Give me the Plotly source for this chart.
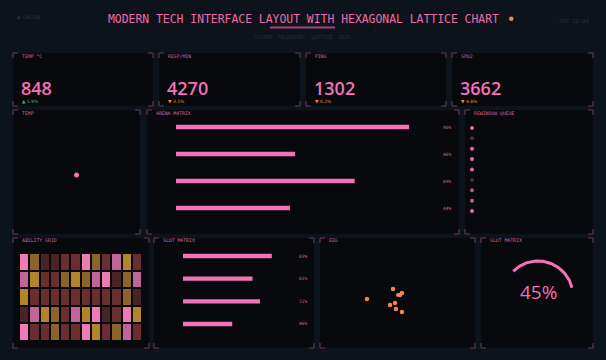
import math
import plotly.graph_objects as go

W, H = 606, 360

# ---------------- data ----------------
kpi_labels = ["TEMP °C", "RESP/MIN", "PING", "SPO2"]
kpi_values = [848, 4270, 1302, 3662]
kpi_deltas = ["▲ 5.8%", "▼ 3.1%", "▼ 0.2%", "▼ 4.8%"]
kpi_up = [True, False, False, False]

temp_x = [0.0]
temp_y = [-0.05]

arena_cats = ["A", "B", "C", "D"]
arena_vals = [90, 46, 69, 44]

queue_status = [1, 0, 1, 1, 1, 0, 0.7, 0.8, 1]

grid_z = [
    [5, 2, 0, 0, 1, 1, 5, 2, 1, 4, 3, 1],
    [4, 3, 1, 1, 2, 3, 2, 4, 5, 0, 2, 4],
    [3, 1, 1, 1, 1, 1, 1, 1, 1, 1, 2, 0],
    [0, 4, 3, 2, 1, 4, 3, 5, 0, 1, 5, 3],
    [5, 1, 1, 2, 1, 1, 5, 3, 1, 2, 4, 1],
]

slot_cats = ["A", "B", "C", "D"]
slot_vals = [83, 65, 72, 46]

eeg_x = [3.03, 4.71, 5.29, 5.16, 4.84, 4.52, 4.90, 5.29]
eeg_y = [4.49, 5.42, 5.05, 4.86, 4.11, 3.93, 3.55, 3.27]
eeg_mark_x = [5.03]
eeg_mark_y = [4.86]

gauge_value = 45

# ---------------- styling ----------------
BG = "#0d131b"
PANEL = "#08090c"
PINK = "#f472b6"
DIMPINK = "#6e3a56"
ORANGE = "#f5864a"
GREEN = "#3fb37a"
MONO = "DejaVu Sans Mono"


def X(px):
    return px / W


def Y(py):
    return 1 - py / H


shapes = []
annotations = []


def panel(x0, y0, x1, y1, title):
    shapes.append(dict(type="rect", xref="paper", yref="paper",
                       x0=X(x0), x1=X(x1), y0=Y(y1), y1=Y(y0),
                       fillcolor=PANEL, line=dict(width=0), layer="below"))
    L = 5
    corners = [
        f"M{X(x0)},{Y(y0+L)} L{X(x0)},{Y(y0)} L{X(x0+L)},{Y(y0)}",
        f"M{X(x1-L)},{Y(y0)} L{X(x1)},{Y(y0)} L{X(x1)},{Y(y0+L)}",
        f"M{X(x0)},{Y(y1-L)} L{X(x0)},{Y(y1)} L{X(x0+L)},{Y(y1)}",
        f"M{X(x1-L)},{Y(y1)} L{X(x1)},{Y(y1)} L{X(x1)},{Y(y1-L)}",
    ]
    for c in corners:
        shapes.append(dict(type="path", xref="paper", yref="paper", path=c,
                           line=dict(color=DIMPINK, width=1), layer="below"))
    annotations.append(dict(xref="paper", yref="paper", x=X(x0 + 7), y=Y(y0 + 3),
                            text=title, showarrow=False, xanchor="left", yanchor="middle",
                            font=dict(family=MONO, size=4.8, color="#d0649e")))


# KPI panels
kpi_boxes = [(13, 53, 153, 106), (159, 53, 300, 106), (306, 53, 446, 106), (452, 53, 593, 106)]
for (x0, y0, x1, y1), lab, val, d, up in zip(kpi_boxes, kpi_labels, kpi_values, kpi_deltas, kpi_up):
    panel(x0, y0, x1, y1, lab)
    annotations.append(dict(xref="paper", yref="paper", x=X(x0 + 6), y=Y(88),
                            text=str(val), showarrow=False, xanchor="left", yanchor="middle",
                            font=dict(family="Open Sans", size=18, color=PINK, weight=600)))
    annotations.append(dict(xref="paper", yref="paper", x=X(x0 + 7), y=Y(101.5),
                            text=d, showarrow=False, xanchor="left", yanchor="middle",
                            font=dict(family="DejaVu Sans", size=4.5, color=GREEN if up else ORANGE)))

panel(13, 110, 140, 234, "TEMP")
panel(147, 110, 459, 234, "ARENA MATRIX")
panel(465, 110, 593, 234, "REWINDOW QUEUE")
panel(13, 238, 149, 348, "ABILITY GRID")
panel(154, 238, 314, 348, "SLOT MATRIX")
panel(320, 238, 475, 348, "EEG")
panel(481, 238, 593, 348, "SLOT MATRIX")

# header
annotations.append(dict(xref="paper", yref="paper", x=X(303), y=Y(18.5),
                        text="MODERN TECH INTERFACE LAYOUT WITH HEXAGONAL LATTICE CHART",
                        showarrow=False, xanchor="center", yanchor="middle",
                        font=dict(family=MONO, size=11.4, color="#ec6daa")))
shapes.append(dict(type="circle", xref="paper", yref="paper",
                   x0=X(509), x1=X(513.5), y0=Y(21), y1=Y(16.5),
                   fillcolor=ORANGE, line=dict(width=0)))
shapes.append(dict(type="line", xref="paper", yref="paper",
                   x0=X(270), x1=X(335), y0=Y(27.5), y1=Y(27.5),
                   line=dict(color="#a3477a", width=2)))
annotations.append(dict(xref="paper", yref="paper", x=X(302), y=Y(37.5),
                        text="SYSTEM  TELEMETRY  LATTICE  GRID",
                        showarrow=False, xanchor="center", yanchor="middle",
                        font=dict(family=MONO, size=5, color="#262f3b")))
annotations.append(dict(xref="paper", yref="paper", x=X(15), y=Y(17),
                        text="● ONLINE", showarrow=False, xanchor="left", yanchor="middle",
                        font=dict(family=MONO, size=5, color="#262f3b")))
annotations.append(dict(xref="paper", yref="paper", x=X(591), y=Y(21),
                        text="SYS 12:04", showarrow=False, xanchor="right", yanchor="middle",
                        font=dict(family=MONO, size=5.5, color="#262f3b")))

fig = go.Figure()

# 1: temp point
fig.add_trace(go.Scatter(x=temp_x, y=temp_y, mode="markers",
                         marker=dict(color=PINK, size=5), xaxis="x", yaxis="y"))

# 2: arena bars
fig.add_trace(go.Bar(x=arena_vals, y=list(range(len(arena_vals))), orientation="h",
                     width=0.17, marker=dict(color=PINK, line=dict(width=0)),
                     xaxis="x2", yaxis="y2"))
for i, v in enumerate(arena_vals):
    annotations.append(dict(xref="paper", yref="y2", x=X(447), y=i, text=f"{v}%",
                            showarrow=False, xanchor="center", yanchor="middle",
                            font=dict(family=MONO, size=4.5, color="#d0649e")))

# 3: queue dots
fig.add_trace(go.Scatter(x=[0] * len(queue_status), y=list(range(len(queue_status))),
                         mode="markers",
                         marker=dict(size=4, color=queue_status,
                                     colorscale=[[0, "#4a2a38"], [1, "#e06aa4"]],
                                     cmin=0, cmax=1),
                         xaxis="x3", yaxis="y3"))

# 4: heatmap grid
cols = ["#4a2326", "#6b2e30", "#8c6428", "#b4842c", "#c0649a", "#f07ab4"]
cs = [[i / 5, c] for i, c in enumerate(cols)]
fig.add_trace(go.Heatmap(z=grid_z, colorscale=cs, zmin=0, zmax=5, showscale=False,
                         xgap=2, ygap=2, xaxis="x4", yaxis="y4"))

# 5: slot bars
fig.add_trace(go.Bar(x=slot_vals, y=list(range(len(slot_vals))), orientation="h",
                     width=0.19, marker=dict(color=PINK, line=dict(width=0)),
                     xaxis="x5", yaxis="y5"))
for i, v in enumerate(slot_vals):
    annotations.append(dict(xref="paper", yref="y5", x=X(303), y=i, text=f"{v}%",
                            showarrow=False, xanchor="center", yanchor="middle",
                            font=dict(family=MONO, size=4.5, color="#d0649e")))

# 6: eeg
fig.add_trace(go.Scatter(x=eeg_x, y=eeg_y, mode="markers",
                         marker=dict(color=ORANGE, size=4.5), xaxis="x6", yaxis="y6"))
fig.add_trace(go.Scatter(x=eeg_mark_x, y=eeg_mark_y, mode="markers",
                         marker=dict(color="#f07aa8", size=4), xaxis="x6", yaxis="y6"))

# 7: gauge arc (135deg start, clockwise sweep of value% of 270deg)
R = 35
n = 80
start = 135
sweep = gauge_value / 100 * 270
ax_ = [R * math.cos(math.radians(start - sweep * k / n)) for k in range(n + 1)]
ay_ = [R * math.sin(math.radians(start - sweep * k / n)) for k in range(n + 1)]
fig.add_trace(go.Scatter(x=ax_, y=ay_, mode="lines",
                         line=dict(color=PINK, width=3), xaxis="x7", yaxis="y7"))
annotations.append(dict(xref="x7", yref="y7", x=0, y=4, text=f"{gauge_value}%",
                        showarrow=False, xanchor="center", yanchor="middle",
                        font=dict(family="Open Sans", size=19, color=PINK)))


def axis(d0, d1, rng, anchor, horizontal):
    a = dict(visible=False, showgrid=False, zeroline=False, fixedrange=True,
             range=rng, anchor=anchor)
    if horizontal:
        a["domain"] = [X(d0), X(d1)]
    else:
        a["domain"] = [Y(d1), Y(d0)]
    return a


layout_axes = dict(
    xaxis=axis(13, 140, [-1, 1], "y", True),
    yaxis=axis(110, 234, [-1, 1], "x", False),
    xaxis2=axis(176, 435, [0, 100], "y2", True),
    yaxis2=axis(113.5, 221.5, [3.5, -0.5], "x2", False),
    xaxis3=axis(465, 593, [-7, 121], "y3", True),
    yaxis3=axis(122.8, 216.2, [8.5, -0.5], "x3", False),
    xaxis4=axis(19, 142, [-0.5, 11.5], "y4", True),
    yaxis4=axis(253, 341, [4.5, -0.5], "x4", False),
    xaxis5=axis(183, 290, [0, 100], "y5", True),
    yaxis5=axis(244.7, 335.3, [3.5, -0.5], "x5", False),
    xaxis6=axis(320, 475, [0, 10], "y6", True),
    yaxis6=axis(240, 347, [0, 10], "x6", False),
    xaxis7=axis(481, 593, [-57, 55], "y7", True),
    yaxis7=axis(238, 348, [-52, 58], "x7", False),
)

fig.update_layout(
    width=W, height=H,
    margin=dict(l=0, r=0, t=0, b=0),
    paper_bgcolor=BG, plot_bgcolor="rgba(0,0,0,0)",
    showlegend=False,
    shapes=shapes, annotations=annotations,
    **layout_axes,
)

fig.write_html("out.html", config={"displayModeBar": False})
